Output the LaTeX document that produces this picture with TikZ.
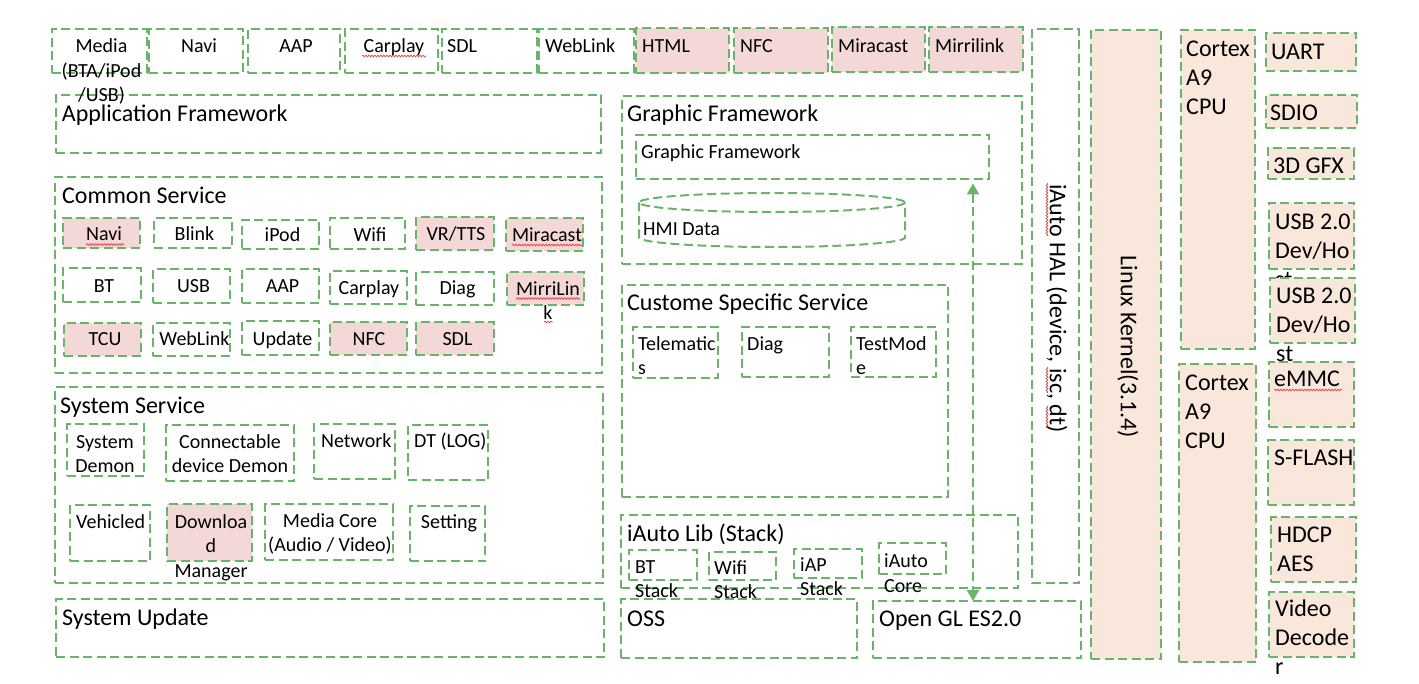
\documentclass[tikz,border=0pt]{standalone}
\usepackage{fontspec}
\setmainfont{Carlito}
\usetikzlibrary{arrows.meta,decorations.pathmorphing}
\definecolor{gline}{RGB}{106,180,106}
\definecolor{pinkf}{RGB}{244,216,216}
\definecolor{peachf}{RGB}{249,231,220}
\definecolor{squigc}{RGB}{232,64,64}
\tikzset{
 box/.style={draw=gline, line width=2.2pt, dash pattern=on 9pt off 4.5pt, inner sep=0pt, outer sep=0pt},
 pk/.style={fill=pinkf},
 pc/.style={fill=peachf},
 tm/.style={font=\fontsize{20}{24.4}\selectfont, inner sep=0pt, anchor=north west, align=left},
 tl/.style={font=\fontsize{24}{29}\selectfont, inner sep=0pt, anchor=north west, align=left},
 ctr/.style={anchor=north, align=center},
 squig/.style={draw=squigc, line width=0.7pt, decorate, decoration={snake, amplitude=0.9pt, segment length=3pt}},
 arr/.style={draw=gline, line width=2pt, dash pattern=on 9pt off 4.5pt, >={Triangle[length=11pt,width=12pt]}, <->},
 cyl/.style={draw=gline, line width=2pt, dash pattern=on 9pt off 4.5pt},
}
% box: [style]{x1}{y1}{x2}{y2}{name}
\newcommand\bx[6][]{\node[box,#1,minimum width={(#4)-(#2)}, minimum height={(#5)-(#3)}] (#6) at ({((#2)+(#4))/2},{((#3)+(#5))/2}) {};}
% text: [style]{name}{x}{baseline}{text}
\newcommand\tM[5][]{\node[tm,#1] (#2) at (#3,{(#4)-17.08}) {\strut #5};}
\newcommand\tL[5][]{\node[tl,#1] (#2) at (#3,{(#4)-20.3}) {\strut #5};}
\begin{document}
\begin{tikzpicture}[x=1pt,y=-1pt]
\useasboundingbox (0,0) rectangle (1419,684);
\fill[white] (0,0) rectangle (1419,684);

% ---------- left column boxes
\bx{56}{95}{601}{153}{appfw}
\bx{55}{177}{602}{373}{common}
\bx{55}{387}{603}{583}{sysserv}
\bx{56}{599}{604}{657}{sysupd}

% top row
\bx{52}{29}{147}{73}{media}
\bx{149}{29}{243}{73}{navi}
\bx{248}{29}{340}{73}{aap}
\bx{345}{29}{438}{73}{carplay}
\bx{442}{29}{537}{73}{sdl}
\bx{539}{29}{634}{73}{weblink}
\bx[pk]{636}{28}{729}{73}{html}
\bx[pk]{734}{28}{828}{73}{nfc}
\bx[pk]{832}{27}{925}{72}{miracast}
\bx[pk]{929}{27}{1023}{72}{mirrilink}

% common service items
\bx[pk]{63}{218}{140}{248}{cNavi}
\bx{154}{218}{232}{248}{cBlink}
\bx{242}{220}{319}{249}{cIpod}
\bx{330}{218}{405}{249}{cWifi}
\bx[pk]{416}{217}{494}{250}{cVr}
\bx[pk]{506}{218}{583}{251}{cMira}
\bx{63}{268}{141}{302}{cBt}
\bx{153}{269}{230}{303}{cUsb}
\bx{242}{269}{319}{303}{cAap}
\bx{330}{271}{407}{304}{cCarplay}
\bx{416}{272}{494}{305}{cDiag}
\bx[pk]{507}{272}{584}{305}{cMirri}
\bx[pk]{64}{323}{141}{356}{cTcu}
\bx{153}{323}{230}{356}{cWeb}
\bx{242}{321}{319}{355}{cUpd}
\bx[pk]{330}{322}{407}{355}{cNfc}
\bx[pk]{416}{322}{494}{355}{cSdl}

% system service items
\bx{67}{424}{144}{476}{sDemon}
\bx{166}{425}{294}{481}{sConn}
\bx{314}{424}{395}{479}{sNet}
\bx{408}{425}{488}{480}{sDt}
\bx{70}{505}{150}{561}{sVeh}
\bx[pk]{167}{504}{252}{561}{sDown}
\bx{265}{504}{393}{560}{sMedia}
\bx{410}{506}{485}{561}{sSet}

% graphic framework
\bx{622}{96}{1022}{264}{gf}
\bx{636}{135}{989}{179}{gfi}
\draw[cyl] (772,202.5) ellipse [x radius=133, y radius=9.5];
\draw[cyl] (639,202.5) -- (639,237.5) arc[start angle=180, end angle=0, x radius=133, y radius=9.5] -- (905,202.5);
\coordinate (hmi) at (772,220);

% custom specific service
\bx{622}{285}{948}{497}{css}
\bx{633}{327}{718}{378}{cssTele}
\bx{742}{327}{829}{377}{cssDiag}
\bx{851}{327}{936}{377}{cssTest}

% iAuto lib
\bx{621}{515}{1018}{588}{lib}
\bx{629}{550}{697}{580}{libBt}
\bx{709}{552}{776}{580}{libWifi}
\bx{794}{549}{862}{578}{libIap}
\bx{879}{543}{946}{574}{libCore}
\bx{621}{599}{857}{658}{oss}
\bx{873}{601}{1081}{658}{ogl}

% HAL, kernel, CPUs
\bx{1032}{29}{1079}{583}{hal}
\bx[pc]{1091}{30}{1161}{659}{linux}
\bx[pc]{1181}{30}{1255}{349}{cpuA}
\bx[pc]{1179}{364}{1256}{662}{cpuB}

% right column
\bx[pc]{1266}{33}{1356}{71}{uart}
\bx[pc]{1266}{95}{1357}{128}{sdio}
\bx[pc]{1268}{148}{1354}{179}{gfx}
\bx[pc]{1269}{203}{1354}{269}{usbA}
\tL{tUsbA}{1275}{229}{USB 2.0\\Dev/Ho\\st}
\bx[pc]{1270}{278}{1355}{343}{usbB}
\bx[pc]{1269}{362}{1354}{427}{emmc}
\bx[pc]{1268}{440}{1354}{505}{sflash}
\bx[pc]{1271}{517}{1356}{582}{hdcp}
\bx[pc]{1269}{592}{1354}{657}{video}

% ---------- texts
% top row
\tM[ctr]{tMedia}{101.5}{52.7}{Media\\(BTA/iPod\\/USB)}
\tM[ctr]{tNavi}{199}{52.7}{Navi}
\tM[ctr]{tAap}{296}{52.7}{AAP}
\tM[ctr]{tCarplay}{394}{52.7}{Carplay}
\tM{tSdl}{447}{52.7}{SDL}
\tM{tWeb}{545}{52.7}{WebLink}
\tM{tHtml}{642}{52.7}{HTML}
\tM{tNfc}{740}{52.7}{NFC}
\tM{tMira}{838}{52.7}{Miracast}
\tM{tMirri}{935}{52.7}{Mirrilink}

% titles
\tL{tApp}{61.7}{121.7}{Application Framework}
\tL{tCommon}{62}{203}{Common Service}
\tL{tSysS}{60}{413}{System Service}
\tL{tSysU}{62}{625}{System Update}
\tL{tGf}{627}{121}{Graphic Framework}
\tL{tCss}{627}{310}{Custome Specific Service}
\tL{tLib}{627}{541.7}{iAuto Lib (Stack)}
\tL{tOss}{627}{626.7}{OSS}
\tL{tOgl}{879}{626.7}{Open GL ES2.0}

% common items
\tM[ctr]{tcNavi}{104}{240.7}{Navi}
\tM[ctr]{tcBlink}{194.5}{240.7}{Blink}
\tM[ctr]{tcIpod}{282.5}{241}{iPod}
\tM[ctr]{tcWifi}{370}{241}{Wifi}
\tM[ctr]{tcVr}{456}{240}{VR/TTS}
\tM[ctr]{tcMira}{547}{241}{Miracast}
\tM[ctr]{tcBt}{104}{292}{BT}
\tM[ctr]{tcUsb}{193.5}{292}{USB}
\tM[ctr]{tcAap}{282.5}{292}{AAP}
\tM[ctr]{tcCarplay}{369}{294}{Carplay}
\tM[ctr]{tcDiag}{457.5}{294}{Diag}
\tM[ctr]{tcMirri}{548}{295}{MirriLin\\k}
\tM[ctr]{tcTcu}{105}{345}{TCU}
\tM[ctr]{tcWeb}{194.5}{345}{WebLink}
\tM[ctr]{tcUpd}{282.5}{345}{Update}
\tM[ctr]{tcNfc}{369}{345}{NFC}
\tM[ctr]{tcSdl}{457.5}{345}{SDL}

% system items
\tM[ctr]{tsDemon}{105}{448}{System\\Demon}
\tM[ctr]{tsConn}{230}{448}{Connectable\\device Demon}
\tM{tsNet}{321}{447}{Network}
\tM{tsDt}{414}{447}{DT (LOG)}
\tM{tsVeh}{76}{528}{Vehicled}
\tM[ctr]{tsDown}{211}{528}{Downloa\\d\\Manager}
\tM[ctr]{tsMedia}{330}{527}{Media Core\\(Audio / Video)}
\tM[ctr]{tsSet}{449}{528}{Setting}

% graphic / css / lib
\tM{tGfi}{641}{158}{Graphic Framework}
\tM{tHmi}{643}{235}{HMI Data}
\tM{tTele}{638}{350}{Telematic\\s}
\tM{tDiag}{747}{350}{Diag}
\tM{tTest}{856}{350}{TestMod\\e}
\tM{tlBt}{635}{573}{BT\\Stack}
\tM{tlWifi}{714}{574}{Wifi\\Stack}
\tM{tlIap}{800}{571}{iAP\\Stack}
\tM{tlCore}{884}{567.7}{iAuto\\Core}

% right side
\tL{tCpuA}{1186}{56.7}{Cortex\\A9\\CPU}
\tL{tCpuB}{1185}{390}{Cortex\\A9\\CPU}
\tL{tUart}{1271}{59}{UART}
\tL{tSdio}{1270}{120}{SDIO}
\tL{tGfx}{1273}{173}{3D GFX}
\tL{tUsbB}{1276}{303}{USB 2.0\\Dev/Ho\\st}
\tL{tEmmc}{1274}{386.7}{eMMC}
\tL{tSflash}{1274}{465}{S-FLASH}
\tL{tHdcp}{1277}{542.7}{HDCP\\AES}
\tL{tVideo}{1275}{616.7}{Video\\Decode\\r}

% rotated
\node[font=\fontsize{24}{29}\selectfont, inner sep=0pt, rotate=-90] (tHal) at (1057,308.5) {iAuto HAL (device, isc, dt)};
\node[font=\fontsize{24}{29}\selectfont, inner sep=0pt, rotate=-90] (tLinux) at (1128,347) {Linux Kernel(3.1.4)};

% arrow
\coordinate (atop) at ([xshift=-16pt,yshift=-4.5pt]gfi.south east);
\coordinate (abot) at (atop |- ogl.north);
\draw[arr] (atop) -- (abot);

% spell-check squiggles
\draw[squig] (362,56) -- (426,56);
\draw[squig] (86,244.5) -- (124,244.5);
\draw[squig] (512,245) -- (582,245);
\draw[squig] (516,298.5) -- (580,298.5);
\draw[squig] (544,322) -- (553,322);
\draw[squig] (1274,390) -- (1342,390);
\draw[squig] (1047,183) -- (1047,236);
\draw[squig] (1047,367) -- (1047,393);
\draw[squig] (1047,406) -- (1047,428);
\end{tikzpicture}
\end{document}
